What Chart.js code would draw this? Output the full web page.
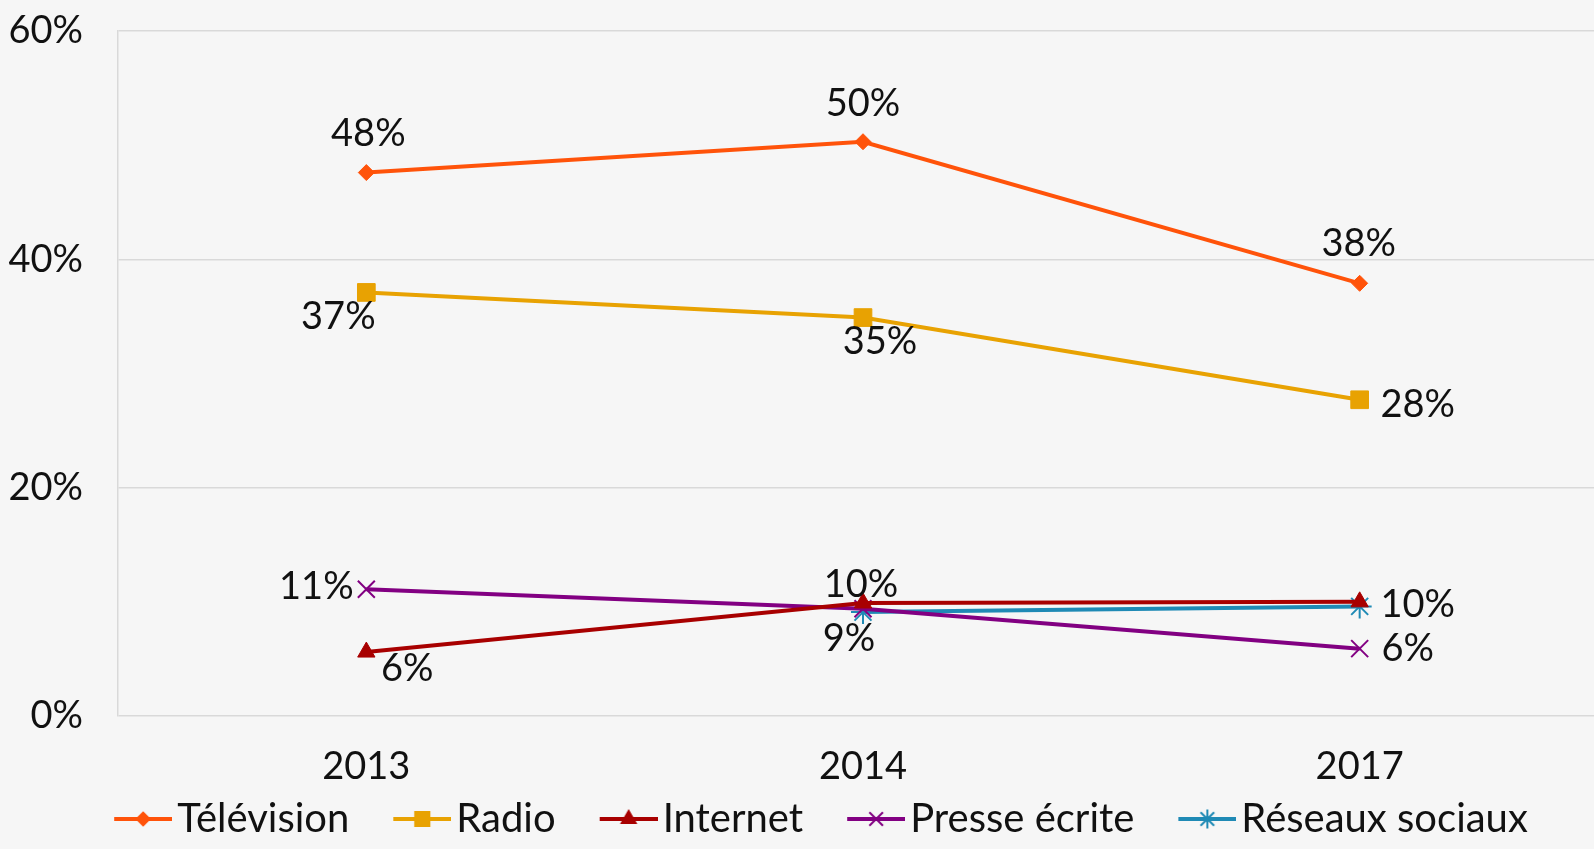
<!DOCTYPE html>
<html>
<head>
<meta charset="utf-8">
<script src="https://cdn.jsdelivr.net/npm/chart.js@4/dist/chart.umd.min.js"></script>
<style>
  html, body { margin: 0; padding: 0; background: #f6f6f6; overflow: hidden; }
  #wrap { width: 1594px; height: 849px; overflow: hidden; position: relative; }
  canvas { display: block; }
</style>
</head>
<body>
<div id="wrap"><canvas id="chart" width="1610" height="849"></canvas></div>
<script>
// ── Data ─────────────────────────────────
const years = ['2013', '2014', '2017'];
const television = [47.6, 50.3, 37.9];
const radio = [37.1, 34.9, 27.7];
const internet = [5.6, 9.9, 10.0];
const presse = [11.1, 9.4, 5.9];
const reseaux = [null, 9.1, 9.6];
const yTicks = [0, 20, 40, 60];

// label offsets from the point (dx, dy), null = no label
const lblTv = [[2, -39], [0, -38], [-1, -40]];
const lblRadio = [[-28, 24], [17, 24], [58, 5]];
const lblInternet = [[41, 17], [-2, -18], [58, 3]];
const lblPresse = [[-50, -3], null, [48, 0]];
const lblReseaux = [null, [-14, 27], null];

const FONT = "Lato, 'Noto Sans', sans-serif";
const FS = 38;
const LEG_FS = 40;
const colors = {
    tv: '#FF530A', radio: '#E8A202', internet: '#A80000', presse: '#820082', reseaux: '#1F8AB5'
};

// legend icon: empty space on the left, then line + marker on the right
function legendIcon(color, style, radius) {
    const c = document.createElement('canvas');
    c.width = 107; c.height = 26;
    const ctx = c.getContext('2d');
    ctx.strokeStyle = color; ctx.lineWidth = 4;
    ctx.beginPath(); ctx.moveTo(49, 13); ctx.lineTo(107, 13); ctx.stroke();
    ctx.fillStyle = color; ctx.lineWidth = 2;
    Chart.helpers.drawPoint(ctx, { pointStyle: style, radius: radius, borderWidth: 2, rotation: 0 }, 78, 13);
    return c;
}

const dataLabels = {
    id: 'dataLabels',
    afterDatasetsDraw(chart) {
        const ctx = chart.ctx;
        ctx.save();
        ctx.font = FS + 'px ' + FONT;
        ctx.fillStyle = '#111';
        ctx.textAlign = 'center';
        ctx.textBaseline = 'middle';
        chart.data.datasets.forEach((ds, i) => {
            const meta = chart.getDatasetMeta(i);
            meta.data.forEach((pt, j) => {
                const off = ds.labelOffsets[j];
                if (!off || ds.data[j] == null) return;
                ctx.fillText(Math.round(ds.data[j]) + '%', pt.x + off[0], pt.y + off[1]);
            });
        });
        ctx.restore();
    }
};

function series(label, data, color, style, radius, offsets) {
    return {
        label, data, labelOffsets: offsets,
        borderColor: color, backgroundColor: color,
        borderWidth: 4, pointStyle: style, pointRadius: radius, pointHoverRadius: radius,
        pointBorderWidth: style === 'crossRot' || style === 'star' ? 2 : 1,
        pointBorderColor: color, pointBackgroundColor: color,
        tension: 0, spanGaps: false
    };
}

new Chart(document.getElementById('chart'), {
    type: 'line',
    data: {
        labels: years,
        datasets: [
            series('Télévision', television, colors.tv, 'rectRot', 8, lblTv),
            series('Radio', radio, colors.radio, 'rect', 12.5, lblRadio),
            series('Internet', internet, colors.internet, 'triangle', 10, lblInternet),
            series('Presse écrite', presse, colors.presse, 'crossRot', 12, lblPresse),
            series('Réseaux sociaux', reseaux, colors.reseaux, 'star', 12, lblReseaux)
        ]
    },
    options: {
        responsive: false, animation: false,
        layout: { autoPadding: false, padding: { top: 0, right: 2, left: 0, bottom: 0 } },
        plugins: {
            tooltip: { enabled: false },
            legend: {
                position: 'bottom', align: 'center',
                labels: {
                    color: '#111', font: { family: FONT, size: LEG_FS },
                    usePointStyle: true, pointStyleWidth: 77, padding: 10,
                    generateLabels(chart) {
                        const items = Chart.defaults.plugins.legend.labels.generateLabels(chart);
                        items.forEach((it, k) => {
                            const ds = chart.data.datasets[k];
                            it.pointStyle = legendIcon(ds.borderColor, ds.pointStyle, ds.pointRadius * 0.8);
                        });
                        return items;
                    }
                }
            }
        },
        scales: {
            x: {
                offset: true,
                grid: { display: false, drawTicks: false },
                border: { display: false },
                ticks: { color: '#111', font: { family: FONT, size: FS }, padding: 28 },
                afterFit(scale) { scale.height = 73; }
            },
            y: {
                min: 0, max: 60,
                afterBuildTicks(scale) { scale.ticks = yTicks.map(v => ({ value: v })); },
                grid: { color: '#d9d9d9', lineWidth: 1.5, drawTicks: false },
                border: { color: '#d9d9d9', width: 1.5 },
                ticks: { color: '#111', font: { family: FONT, size: FS }, padding: 35, callback: v => v + '%' },
                afterFit(scale) { scale.width = 118; scale.paddingTop = 31; scale.paddingBottom = 0; }
            }
        }
    },
    plugins: [dataLabels]
});
</script>
</body>
</html>
